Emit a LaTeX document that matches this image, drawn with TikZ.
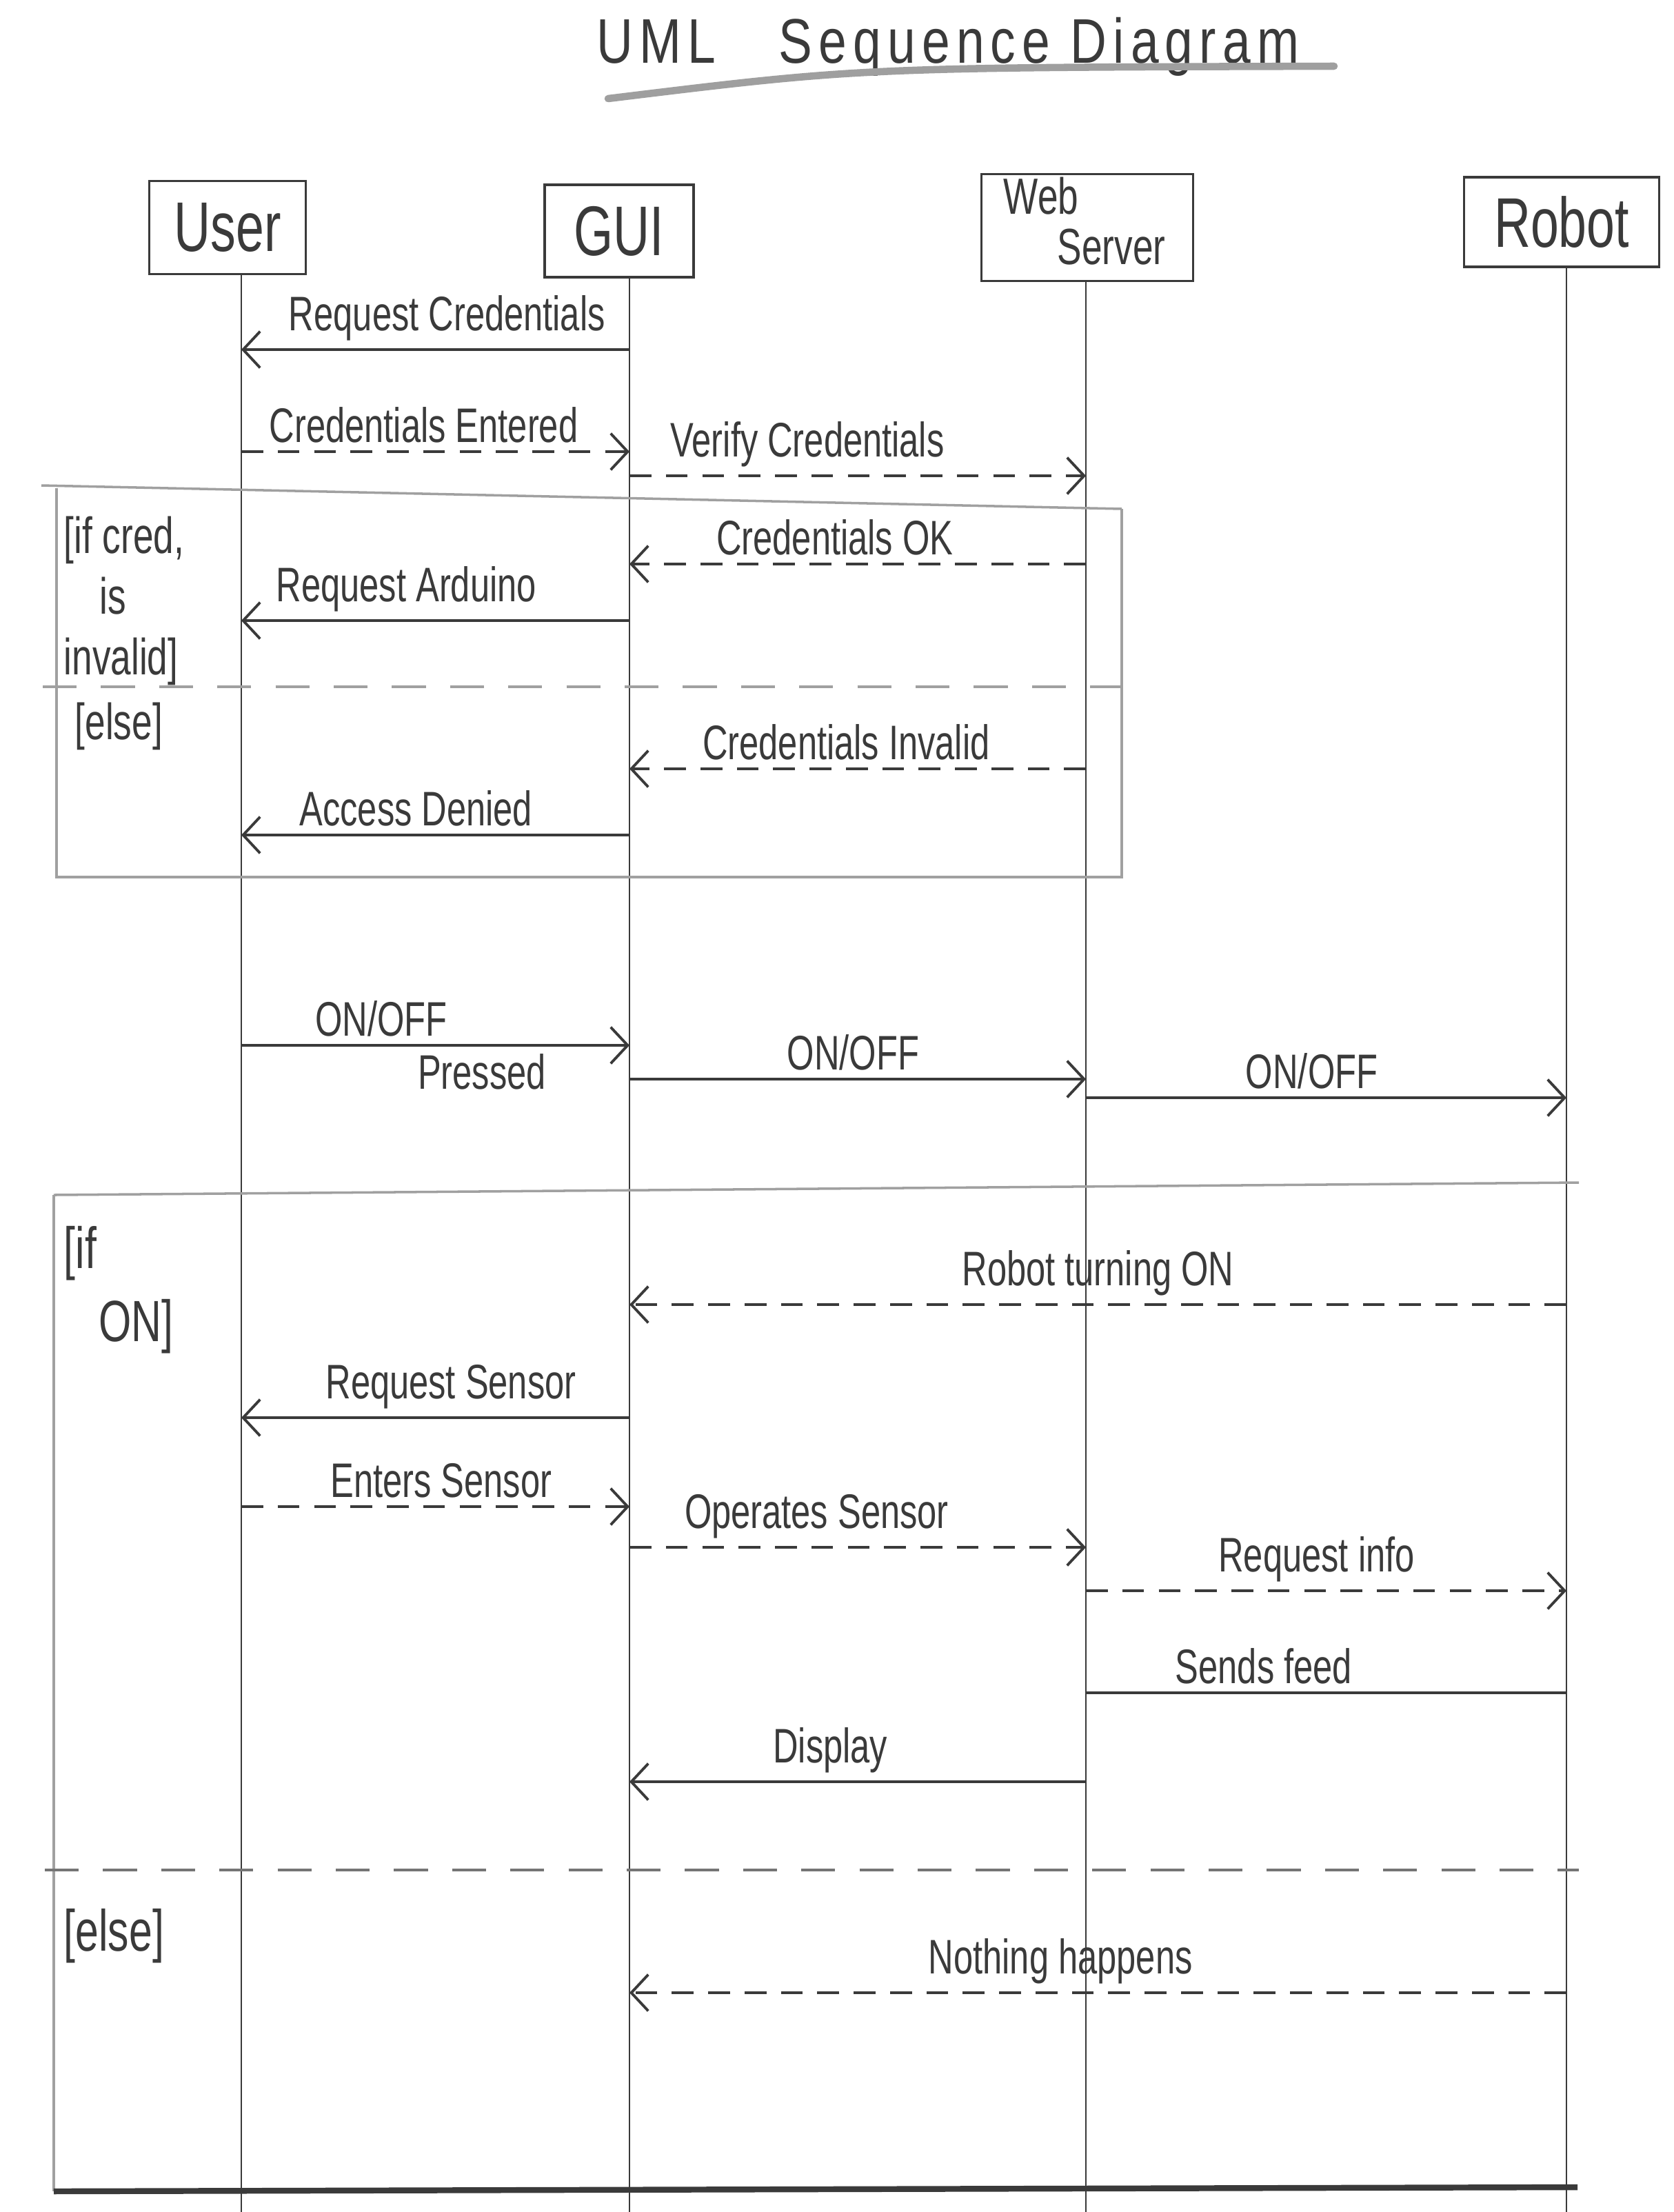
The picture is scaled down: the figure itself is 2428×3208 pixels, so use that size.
\documentclass[tikz,border=0pt]{standalone}
\usepackage{fontspec}
\newfontfamily\handfont{Liberation Sans}[FakeStretch=0.72]
\newfontfamily\titlefont{Liberation Sans}[FakeStretch=0.8,LetterSpace=10]
\usetikzlibrary{arrows.meta}
\definecolor{ink}{HTML}{3A3A3A}
\definecolor{faint}{HTML}{A0A0A0}

\begin{document}
\begin{tikzpicture}[x=0.01cm,y=-0.01cm,
  life/.style={draw=ink,line width=0.8pt},
  msg/.style={draw=ink,line width=1.1pt,-{Straight Barb[length=7pt,width=15pt,line width=1.1pt]}},
  reply/.style={msg,dash pattern=on 9pt off 6pt},
  plainmsg/.style={draw=ink,line width=1.1pt},
  lbl/.style={text=ink,font=\handfont\fontsize{20}{24}\selectfont,inner sep=3pt},
  guard/.style={text=ink,font=\handfont\fontsize{21}{25}\selectfont,align=left,anchor=north west,inner sep=0pt},
  actor/.style={draw=ink,line width=1pt,text=ink,font=\handfont\fontsize{29}{31}\selectfont,inner sep=0pt},
  framebox/.style={draw=faint,line width=1pt},
  sep/.style={draw=faint,line width=1pt,dash pattern=on 14pt off 10pt},
]
\useasboundingbox[fill=white] (0,0) rectangle (2428,3208);

% title
\node[text=ink,font=\titlefont\fontsize{26}{30}\selectfont] (title) at (1375,68) {UML\quad Sequence Diagram};
\draw[gray!75,line width=3pt,line cap=round] (882,143) .. controls (1250,98) .. (1935,96);

% participants
\node[actor,minimum width=2.27cm,minimum height=1.35cm] (user) at (330,330) {User};
\node[actor,minimum width=2.16cm,minimum height=1.34cm] (gui) at (898,335) {GUI};
\node[actor,minimum width=3.07cm,minimum height=1.55cm] (web) at (1577,330) {};
\node[text=ink,font=\handfont\fontsize{21}{23}\selectfont,inner sep=0pt] (webA) at (1510,284) {Web};
\node[text=ink,font=\handfont\fontsize{21}{23}\selectfont,inner sep=0pt] (webB) at (1612,358) {Server};
\node[actor,minimum width=2.83cm,minimum height=1.30cm] (robot) at (2265,322) {Robot};

% lifelines
\coordinate (U) at (350,0);
\coordinate (G) at (913,0);
\coordinate (W) at (1575,0);
\coordinate (R) at (2272,0);
\draw[life] (user.south -| U) -- (U |- 0,3208);
\draw[life] (gui.south -| G) -- (G |- 0,3208);
\draw[life] (web.south -| W) -- (W |- 0,3208);
\draw[life] (robot.south -| R) -- (R |- 0,3208);

% login messages
\draw[msg] (G |- 0,507) -- node[lbl,pos=.47,above] (m1) {Request Credentials} (U |- 0,507);
\draw[reply] (U |- 0,655) -- node[lbl,pos=.47,above] (m2) {Credentials Entered} (G |- 0,655);
\draw[reply] (G |- 0,690) -- node[lbl,pos=.39,above] (m3) {Verify Credentials} (W |- 0,690);

% alt frame: credential check
\draw[framebox] (60,704) -- (1627,738);
\draw[framebox] (82,708) -- (82,1272) -- (1627,1272) -- (1627,738);
\draw[sep] (62,996) -- (1627,996);
\node[guard] (g1) at (92,748) {[if cred,\\\hspace*{0.7em}is\\invalid]};
\node[guard] (g2) at (108,1018) {[else]};

\draw[reply] (W |- 0,818) -- node[lbl,pos=.55,above] (m4) {Credentials OK} (G |- 0,818);
\draw[msg] (G |- 0,900) -- node[lbl,pos=.575,above] (m5) {Request Arduino} (U |- 0,900);
\draw[reply] (W |- 0,1115) -- node[lbl,pos=.525,above] (m6) {Credentials Invalid} (G |- 0,1115);
\draw[msg] (G |- 0,1211) -- node[lbl,pos=.55,above] (m7) {Access Denied} (U |- 0,1211);

% power messages
\draw[msg] (U |- 0,1516) -- node[lbl,pos=.36,above] (m8a) {ON/OFF} node[lbl,pos=.62,below] (m8b) {Pressed} (G |- 0,1516);
\draw[msg] (G |- 0,1565) -- node[lbl,pos=.49,above] (m9) {ON/OFF} (W |- 0,1565);
\draw[msg] (W |- 0,1592) -- node[lbl,pos=.47,above] (m10) {ON/OFF} (R |- 0,1592);

% alt frame: robot state
\draw[framebox] (78,1733) -- (2290,1715);
\draw[framebox] (78,1733) -- (78,3178);
\draw[sep,draw=ink!70] (65,2712) -- (2290,2712);
\draw[draw=ink,line width=2.4pt] (78,3178) -- (2288,3172);
\node[guard,font=\handfont\fontsize{24}{30}\selectfont] (g3) at (92,1778) {[if\\\hspace*{0.6em}ON]};
\node[guard,font=\handfont\fontsize{24}{30}\selectfont] (g4) at (92,2768) {[else]};

\draw[reply] (R |- 0,1892) -- node[lbl,pos=.5,above] (m11) {Robot turning ON} (G |- 0,1892);
\draw[msg] (G |- 0,2056) -- node[lbl,pos=.46,above] (m12) {Request Sensor} (U |- 0,2056);
\draw[reply] (U |- 0,2185) -- node[lbl,pos=.515,above] (m13) {Enters Sensor} (G |- 0,2185);
\draw[reply] (G |- 0,2244) -- node[lbl,pos=.41,above] (m14) {Operates Sensor} (W |- 0,2244);
\draw[reply] (W |- 0,2307) -- node[lbl,pos=.48,above] (m15) {Request info} (R |- 0,2307);
\draw[plainmsg] (R |- 0,2455) -- node[lbl,pos=.63,above] (m16) {Sends feed} (W |- 0,2455);
\draw[msg] (W |- 0,2584) -- node[lbl,pos=.56,above] (m17) {Display} (G |- 0,2584);
\draw[reply] (R |- 0,2890) -- node[lbl,pos=.54,above] (m18) {Nothing happens} (G |- 0,2890);
\end{tikzpicture}
\end{document}
